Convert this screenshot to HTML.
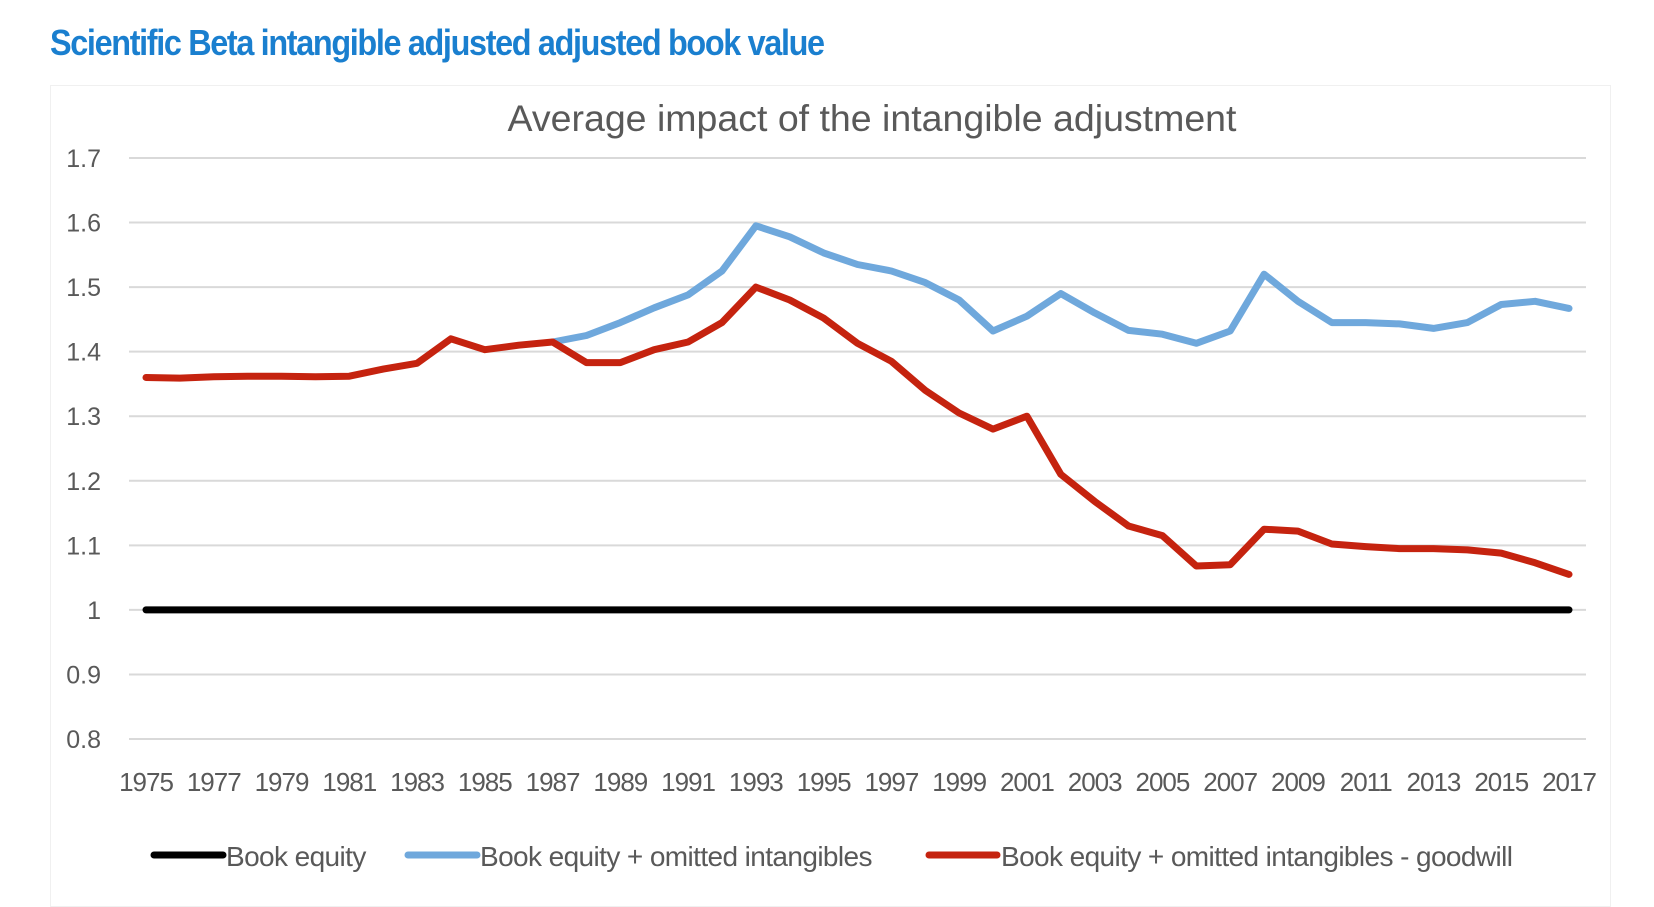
<!DOCTYPE html>
<html><head><meta charset="utf-8">
<style>
html,body{margin:0;padding:0;background:#fff;}
body{width:1654px;height:902px;position:relative;overflow:hidden;font-family:"Liberation Sans",sans-serif;}
#h{position:absolute;left:50px;top:22px;font-size:36px;font-weight:bold;color:#1a7fcf;letter-spacing:-1.5px;transform:scaleX(0.90);transform-origin:left top;white-space:nowrap;}
#box{position:absolute;left:50px;top:85px;width:1559px;height:820px;border:1px solid #f0f0f0;}
</style></head><body>
<div id="h">Scientific Beta intangible adjusted adjusted book value</div>
<div id="box"></div>
<svg id="c" width="1654" height="902" style="position:absolute;left:0;top:0">
<text x="872" y="131" text-anchor="middle" font-size="37.5" fill="#595959" font-family="Liberation Sans, sans-serif">Average impact of the intangible adjustment</text>
<g id="grid"></g><g id="lines"></g><g id="xl"></g><g id="yl"></g><g id="leg"></g>
</svg>
<script>
const years=[];for(let y=1975;y<=2017;y++)years.push(y);
const yTicks=[0.8,0.9,1,1.1,1.2,1.3,1.4,1.5,1.6,1.7];
const yTickLabels=["0.8","0.9","1","1.1","1.2","1.3","1.4","1.5","1.6","1.7"];
const bookEquity=years.map(()=>1);
const redSeries=[1.36,1.359,1.361,1.362,1.362,1.361,1.362,1.373,1.382,1.42,1.403,1.41,1.415,1.383,1.383,1.403,1.415,1.445,1.5,1.48,1.452,1.413,1.385,1.34,1.305,1.28,1.3,1.21,1.168,1.13,1.115,1.068,1.07,1.125,1.122,1.102,1.098,1.095,1.095,1.093,1.088,1.073,1.055];
const blueSeries=[null,null,null,null,null,null,null,null,null,null,null,null,1.415,1.425,1.445,1.468,1.488,1.525,1.595,1.578,1.553,1.535,1.525,1.507,1.48,1.432,1.455,1.49,1.46,1.433,1.427,1.413,1.432,1.52,1.478,1.445,1.445,1.443,1.436,1.445,1.473,1.478,1.467];
const legendLabels=["Book equity","Book equity + omitted intangibles","Book equity + omitted intangibles - goodwill"];

const NS="http://www.w3.org/2000/svg";
const X0=146,X1=1569,Y0=739,Y1=158,VMIN=0.8,VMAX=1.7;
const xs=i=>X0+(X1-X0)*i/(years.length-1);
const ys=v=>Y0-(v-VMIN)/(VMAX-VMIN)*(Y0-Y1);
function mk(t,a,p){const e=document.createElementNS(NS,t);for(const k in a)e.setAttribute(k,a[k]);p.appendChild(e);return e;}
const grid=document.getElementById('grid'),yl=document.getElementById('yl'),xl=document.getElementById('xl'),lines=document.getElementById('lines'),leg=document.getElementById('leg');
yTicks.forEach((v,i)=>{
 const l=mk('line',{x1:129,x2:1586,y1:ys(v),y2:ys(v),stroke:'#d9d9d9','stroke-width':2},grid);
 
 
 const t=mk('text',{x:101,y:ys(v)+9,'text-anchor':'end','font-size':25,fill:'#595959'},yl);
 t.textContent=yTickLabels[i];
 
 
});
years.forEach((y,i)=>{if(i%2)return;
 const t=mk('text',{x:xs(i),y:791,'text-anchor':'middle','font-size':26,fill:'#595959','letter-spacing':'-1'},xl);
 t.textContent=y;
 
 
});
function path(arr){let d='';arr.forEach((v,i)=>{if(v==null)return;d+=(d?'L':'M')+xs(i).toFixed(1)+','+ys(v).toFixed(1);});return d;}
const series=[[bookEquity,'#000','book-equity-line'],[blueSeries,'#6fa8dc','intangibles-line'],[redSeries,'#c5230f','goodwill-adjusted-line']];
series.forEach(([a,c,n])=>{
 const p=mk('path',{d:path(a),fill:'none',stroke:c,'stroke-width':7,'stroke-linejoin':'round','stroke-linecap':'round'},lines);
 
 
});
const legPos=[[154,223,226],[408,477,480],[929,997,1001]];
legPos.forEach((p,i)=>{
 const g=mk('g',{},leg);
 
 
 mk('line',{x1:p[0],x2:p[1],y1:855,y2:855,stroke:series[i][1],'stroke-width':7,'stroke-linecap':'round'},g);
 const t=mk('text',{x:p[2],y:866,'font-size':28,fill:'#595959','letter-spacing':'-0.6'},g);
 t.textContent=legendLabels[i];
});
</script>
</body></html>
